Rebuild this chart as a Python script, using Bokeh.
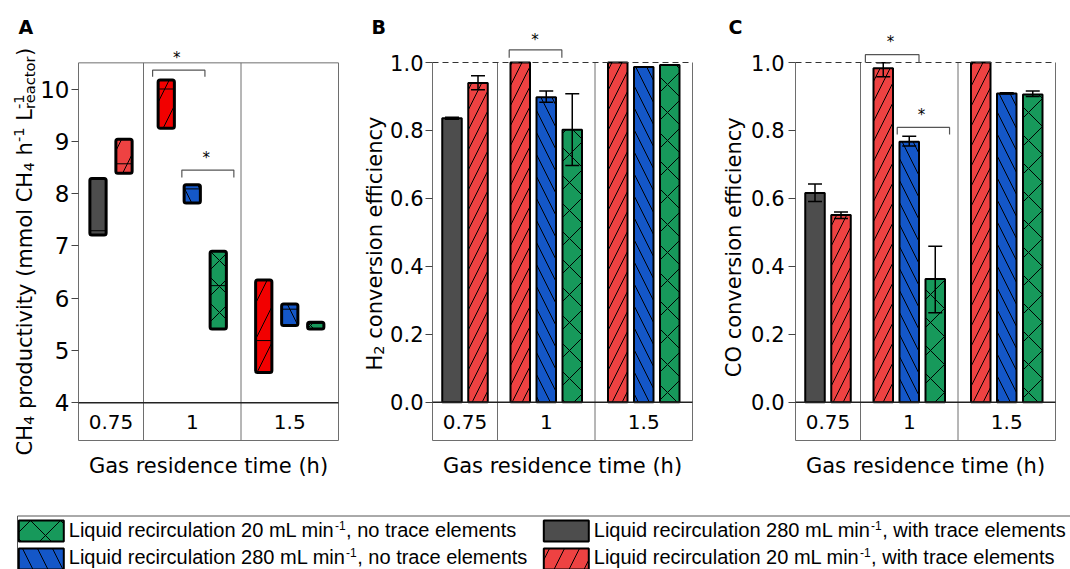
import math
from bokeh.plotting import figure
from bokeh.layouts import column, row
from bokeh.models import FixedTicker, Range1d, ColumnDataSource, PrintfTickFormatter
from bokeh.core.properties import value
from bokeh.embed import file_html
from bokeh.resources import INLINE

nan = float("nan")

# ---------------- data ----------------
residence_times = ["0.75", "1", "1.5"]
bar_time = ["0.75", "0.75", "1", "1", "1", "1.5", "1.5", "1.5"]
bar_series = ["g280", "r20", "r20", "b280", "g20", "r20", "b280", "g20"]

# Panel A: CH4 productivity (min / max / median)
ch4_low = [7.21, 8.39, 9.25, 7.82, 5.41, 4.58, 5.48, 5.41]
ch4_high = [8.29, 9.04, 10.17, 8.17, 6.90, 6.35, 5.89, 5.54]
ch4_median = [7.29, 8.57, 10.00, 8.09, 6.24, 5.19, 5.79, 5.52]

# Panel B: H2 conversion efficiency
h2_eff = [0.836, 0.940, 1.000, 0.898, 0.802, 1.000, 0.987, 0.993]
h2_low = [0.833, 0.920, nan, 0.883, 0.697, nan, nan, nan]
h2_high = [0.839, 0.961, nan, 0.916, 0.908, nan, nan, nan]

# Panel C: CO conversion efficiency
co_eff = [0.616, 0.551, 0.983, 0.767, 0.363, 1.000, 0.909, 0.906]
co_low = [0.591, 0.541, 0.958, 0.754, 0.263, nan, 0.907, 0.900]
co_high = [0.642, 0.560, 0.999, 0.783, 0.459, nan, 0.911, 0.916]

# significance brackets: (x start, x end, bracket height, leg end)
a_brackets = [(2.28, 3.89, 10.36, 10.235), (3.18, 4.78, 8.45, 8.31)]
a_stars = [(3.02, 10.60), (3.93, 8.68)]
b_brackets = [(2.36, 3.98, 1.037, 1.014)]
b_stars = [(3.15, 1.067)]
c_brackets = [(2.15, 3.80, 1.023, 1.0), (3.13, 4.74, 0.809, 0.788)]
c_stars = [(2.92, 1.059), (3.88, 0.845)]

a_ticks = [4, 5, 6, 7, 8, 9, 10]
eff_ticks = [0.0, 0.2, 0.4, 0.6, 0.8, 1.0]

x_title = "Gas residence time (h)"
panel_letters = ["A", "B", "C"]

legend_order = ["g20", "b280", "g280", "r20"]
legend_main = {
    "g20": "Liquid recirculation 20 mL min",
    "b280": "Liquid recirculation 280 mL min",
    "g280": "Liquid recirculation 280 mL min",
    "r20": "Liquid recirculation 20 mL min",
}
legend_rest = {
    "g20": ", no trace elements",
    "b280": ", no trace elements",
    "g280": ", with trace elements",
    "r20": ", with trace elements",
}

# ---------------- styles ----------------
FILL = {"g280": "#4d4d4d", "r20": "#ee4242", "b280": "#1457c8", "g20": "#17995b"}
HATCH = {"g280": " ", "r20": "/", "b280": "\\", "g20": "x"}
HSCALE_B = {"g280": 12, "r20": 20, "b280": 22, "g20": 28}
HSCALE_A = {"g280": 12, "r20": 36, "b280": 30, "g20": 26}
HSCALE_L = {"g280": 12, "r20": 30, "b280": 30, "g20": 30}
RED_A_BRIGHT = "#f20000"
FONT = "DejaVu Sans"
BORDER = "#6e6e6e"
H = 490  # height of the panel row in px

# bar positions from grouping
counts = [bar_time.count(t) for t in residence_times]
edges = [0]
for c in counts:
    edges.append(edges[-1] + c)
centers = [(edges[i] + edges[i + 1]) / 2 for i in range(len(counts))]
bar_x = []
for i, t in enumerate(residence_times):
    n = counts[i]
    for j in range(n):
        bar_x.append(centers[i] + (j - (n - 1) / 2) * 0.8)

PX_PER_UNIT = 32.5
XR = (-2 / PX_PER_UNIT, edges[-1] + 2 / PX_PER_UNIT)

DV = {' ': .318, '(': .390, ')': .390, '-': .361, 'C': .698, 'H': .752, 'L': .557, 'O': .787,
      'a': .613, 'c': .550, 'd': .635, 'e': .615, 'f': .352, 'h': .634, 'i': .278, 'l': .278,
      'm': .974, 'n': .634, 'o': .612, 'p': .635, 'r': .411, 's': .521, 't': .392, 'u': .634,
      'v': .592, 'y': .592}
for d in "0123456789":
    DV[d] = .636

AR = {' ': .278, ',': .278, '-': .333, 'L': .556, 'a': .556, 'c': .5, 'd': .556, 'e': .556,
      'h': .556, 'i': .222, 'l': .222, 'm': .833, 'n': .556, 'o': .556, 'q': .556, 'r': .333,
      's': .5, 't': .278, 'u': .556, 'w': .722}
for d in "0123456789":
    AR[d] = .556


def wid(s, table):
    return sum(table.get(ch, 0.6) for ch in s)


def blank_fig(width):
    p = figure(width=width, height=H, x_range=Range1d(0, width), y_range=Range1d(0, H),
               min_border=0, x_axis_location=None, y_axis_location=None,
               toolbar_location=None, output_backend="svg")
    p.outline_line_color = None
    p.grid.visible = False
    return p


def make_panel(y_at_base, base_px, px_per_val, total_w, border_left, ticks, tick_size, standoff, fmt=None):
    ystart = y_at_base - (H - base_px) / px_per_val
    yend = y_at_base + base_px / px_per_val
    p = figure(width=total_w, height=H, frame_width=264, frame_height=H,
               min_border_left=border_left, min_border_right=total_w - border_left - 264,
               min_border_top=0, min_border_bottom=0,
               x_range=Range1d(*XR), y_range=Range1d(ystart, yend),
               x_axis_location=None, toolbar_location=None, output_backend="svg")
    p.outline_line_color = None
    p.grid.visible = False
    ax = p.yaxis[0]
    ax.ticker = FixedTicker(ticks=ticks)
    if fmt:
        ax.formatter = PrintfTickFormatter(format=fmt)
    ax.axis_line_color = None
    ax.major_tick_out = 5
    ax.major_tick_in = 2
    ax.major_tick_line_color = "#444444"
    ax.major_tick_line_width = 1
    ax.minor_tick_line_color = None
    ax.major_label_text_font = FONT
    ax.major_label_text_font_size = f"{tick_size}px"
    ax.major_label_text_color = "black"
    ax.major_label_standoff = standoff

    def yv(canvas_y):
        return y_at_base - (canvas_y - base_px) / px_per_val
    return p, yv


def frame_lines(p, base, top, band_bottom, dashed_top):
    xs = [edges[0], edges[-1]] + edges[1:-1]
    p.segment(x0=xs, x1=xs, y0=[band_bottom] * len(xs), y1=[top] * len(xs),
              line_color=BORDER, line_width=1)
    p.segment(x0=[edges[0]], x1=[edges[-1]], y0=[band_bottom], y1=[band_bottom],
              line_color=BORDER, line_width=1)
    if dashed_top:
        p.segment(x0=[edges[0]], x1=[edges[-1]], y0=[top], y1=[top],
                  line_color="#333333", line_width=1, line_dash="6 4")
    else:
        p.segment(x0=[edges[0]], x1=[edges[-1]], y0=[top], y1=[top],
                  line_color=BORDER, line_width=1)
    p.segment(x0=[edges[0]], x1=[edges[-1]], y0=[base], y1=[base],
              line_color="#222222", line_width=1.5)


def panel_texts(p, yv):
    p.text(x=centers, y=[yv(421.5)] * len(centers), text=residence_times, text_align="center",
           text_baseline="middle", text_font=value(FONT), text_font_size="20px",
           text_color="black")
    p.text(x=[edges[-1] / 2], y=[yv(465.5)], text=[x_title], text_align="center",
           text_baseline="middle", text_font=value(FONT), text_font_size="21px",
           text_color="black")


def brackets(p, br, stars):
    xs = [[b[0], b[0], b[1], b[1]] for b in br]
    ys = [[b[3], b[2], b[2], b[3]] for b in br]
    p.multi_line(xs=xs, ys=ys, line_color="#555555", line_width=1.2)
    p.text(x=[s[0] for s in stars], y=[s[1] for s in stars], text=["*"] * len(stars),
           text_align="center", text_baseline="middle", text_font=value(FONT),
           text_font_size="15px", text_color="black")


def side_fig(width, letter, letter_x, cx, start_y, pieces):
    """Narrow figure holding the panel letter and the rotated y title."""
    p = blank_fig(width)
    p.text(x=[letter_x], y=[H - 26.5], text=[letter], text_align="left", text_baseline="middle",
           text_font=value(FONT), text_font_style="bold", text_font_size="19px",
           text_color="black")
    pos = 0.0
    xs, ys, ts, sizes = [], [], [], []
    for text, size, shift, advance in pieces:
        stripped = text.lstrip(" ")
        lead = (len(text) - len(stripped)) * DV[" "] * size
        xs.append(cx + shift)
        ys.append(H - start_y + pos + lead)
        ts.append(stripped)
        sizes.append(f"{size}px")
        if advance:
            pos += wid(text, DV) * size
    src = ColumnDataSource(dict(x=xs, y=ys, text=ts, size=sizes))
    p.text(x="x", y="y", text="text", text_font_size="size", source=src, angle=math.pi / 2,
           text_align="left", text_baseline="middle", text_font=value(FONT), text_color="black")
    return p


def bars_eff(p, vals, lo, hi):
    src = ColumnDataSource(dict(
        x=bar_x, top=vals,
        color=[FILL[s] for s in bar_series],
        hatch=[HATCH[s] for s in bar_series],
        hscale=[HSCALE_B[s] for s in bar_series]))
    p.vbar(x="x", width=0.6, top="top", bottom=0, source=src, fill_color="color",
           line_color="black", line_width=2, hatch_pattern="hatch", hatch_color="black",
           hatch_scale="hscale", hatch_weight=1)
    cap = 0.215
    p.segment(x0=bar_x, x1=bar_x, y0=lo, y1=hi, line_color="black", line_width=1.5)
    p.segment(x0=[x - cap for x in bar_x], x1=[x + cap for x in bar_x], y0=lo, y1=lo,
              line_color="black", line_width=1.5)
    p.segment(x0=[x - cap for x in bar_x], x1=[x + cap for x in bar_x], y0=hi, y1=hi,
              line_color="black", line_width=1.5)


SUB, SUP = 4.0, -5.8

# ---------------- Panel A ----------------
sA = side_fig(37, panel_letters[0], 18, 24.5, 455, [
    ("CH", 21, 0, True), ("4", 14.7, SUB, True),
    (" productivity (mmol CH", 21, 0, True), ("4", 14.7, SUB, True),
    (" h", 21, 0, True), ("-1", 14.7, SUP, True),
    (" L", 21, 0, True), ("-1", 14.7, SUP, False),
    ("reactor", 14.7, SUB, True), (")", 21, 0, True)])
pA, yA = make_panel(4, 402.3, 52.3, 313, 38, a_ticks, 23, 2)
frame_lines(pA, 4, 10.5, yA(440), False)
colA = []
for t, s in zip(bar_time, bar_series):
    if s == "r20" and t != residence_times[0]:
        colA.append(RED_A_BRIGHT)
    else:
        colA.append(FILL[s])
srcA = ColumnDataSource(dict(
    x=bar_x, top=ch4_high, bottom=ch4_low, color=colA,
    hatch=[HATCH[s] for s in bar_series],
    hscale=[HSCALE_A[s] for s in bar_series]))
pA.vbar(x="x", width=0.5, top="top", bottom="bottom", source=srcA, fill_color="color",
        line_color="black", line_width=3, hatch_pattern="hatch", hatch_color="black",
        hatch_scale="hscale", hatch_weight=1, border_radius=2)
pA.segment(x0=[x - 0.25 for x in bar_x], x1=[x + 0.25 for x in bar_x], y0=ch4_median,
           y1=ch4_median, line_color="black", line_width=1)
brackets(pA, a_brackets, a_stars)
panel_texts(pA, yA)

# ---------------- Panel B ----------------
sB = side_fig(36, panel_letters[1], 20, 23, 370, [
    ("H", 21, 0, True), ("2", 14.7, SUB, True), (" conversion efficiency", 21, 0, True)])
pB, yB = make_panel(0, 401.7, 339.7, 314, 43, eff_ticks, 21, 2, "%.1f")
bars_eff(pB, h2_eff, h2_low, h2_high)
frame_lines(pB, 0, 1.0, yB(440), True)
brackets(pB, b_brackets, b_stars)
panel_texts(pB, yB)

# ---------------- Panel C ----------------
sC = side_fig(47, panel_letters[2], 27, 32, 376.7, [("CO conversion efficiency", 21, 0, True)])
pC, yC = make_panel(0, 401.7, 339.7, 323, 44, eff_ticks, 21, 4, "%.1f")
bars_eff(pC, co_eff, co_low, co_high)
frame_lines(pC, 0, 1.0, yC(440), True)
brackets(pC, c_brackets, c_stars)
panel_texts(pC, yC)

# ---------------- Legend ----------------
LH = 79
pL = figure(width=1070, height=LH, x_range=Range1d(0, 1070), y_range=Range1d(569, 490),
            min_border=0, x_axis_location=None, y_axis_location=None,
            toolbar_location=None, output_backend="svg")
pL.outline_line_color = None
pL.grid.visible = False
pL.quad(left=[17], right=[1080], top=[515.5], bottom=[580], fill_color=None,
        line_color="#555555", line_width=1)
patch_left = [18.3, 18.3, 543.3, 543.3]
patch_top = [520, 548, 520, 548]
text_x = [68.3, 68.3, 593.3, 593.3]
text_mid = [529.5, 556.0, 529.5, 556.0]
pL.quad(left=patch_left, right=[x + 45 for x in patch_left], top=patch_top,
        bottom=[t + 21 for t in patch_top],
        fill_color=[FILL[s] for s in legend_order], line_color="black", line_width=2,
        hatch_pattern=[HATCH[s] for s in legend_order], hatch_color="black",
        hatch_scale=[HSCALE_L[s] for s in legend_order], hatch_weight=1)
mains = [legend_main[s] for s in legend_order]
rests = [legend_rest[s] for s in legend_order]
sup_x = [x + wid(m, AR) * 20 + 0.5 for x, m in zip(text_x, mains)]
rest_x = [x + wid("-1", AR) * 12 + 0.5 for x in sup_x]
LFONT = value("Liberation Sans")
pL.text(x=text_x, y=text_mid, text=mains, text_font=LFONT, text_font_size="20px",
        text_baseline="middle", text_align="left", text_color="black")
pL.text(x=sup_x, y=[m - 4.5 for m in text_mid], text=["-1"] * 4, text_font=LFONT,
        text_font_size="12px", text_baseline="middle", text_align="left", text_color="black")
pL.text(x=rest_x, y=text_mid, text=rests, text_font=LFONT, text_font_size="20px",
        text_baseline="middle", text_align="left", text_color="black")

layout = column(row(sA, pA, sB, pB, sC, pC), pL)
open("out.html", "w").write(file_html(layout, INLINE))
